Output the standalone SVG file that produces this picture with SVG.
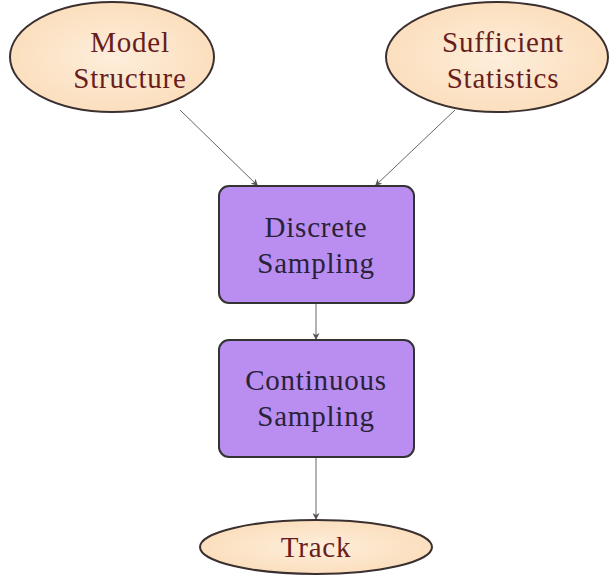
<svg xmlns="http://www.w3.org/2000/svg" width="612" height="576" viewBox="0 0 612 576">
<defs>
<radialGradient id="peach" cx="50%" cy="50%" r="60%">
<stop offset="0" stop-color="#fdeedb"/>
<stop offset="1" stop-color="#fbdcb8"/>
</radialGradient>
<marker id="ah" viewBox="0 0 10 10" refX="10" refY="5" markerWidth="7" markerHeight="7" orient="auto" markerUnits="userSpaceOnUse">
<path d="M0,0 L10,5 L0,10 L3,5 Z" fill="#555"/>
</marker>
<style>
.ell{fill:url(#peach);stroke:#3a3030;stroke-width:2}
.box{fill:#b98ef0;stroke:#333;stroke-width:2}
.et{font-family:"Liberation Serif",serif;font-size:29px;letter-spacing:0.8px;fill:#6a1d1d;text-anchor:middle}
.bt{font-family:"Liberation Serif",serif;font-size:29px;letter-spacing:0.8px;fill:#2a2238;text-anchor:middle}
.edge{stroke:#666;stroke-width:1;fill:none;marker-end:url(#ah)}
</style>
</defs>
<rect width="612" height="576" fill="#fff"/>
<g id="edges">
<line class="edge" x1="180" y1="110" x2="258" y2="186"/>
<line class="edge" x1="455" y1="110" x2="375" y2="186"/>
<line class="edge" x1="316" y1="303" x2="316" y2="340"/>
<line class="edge" x1="316" y1="457" x2="316" y2="520"/>
</g>
<g id="model-structure">
<ellipse class="ell" cx="112" cy="57" rx="102" ry="55"/>
<text class="et" x="130" y="52">Model</text>
<text class="et" x="130" y="88">Structure</text>
</g>
<g id="sufficient-statistics">
<ellipse class="ell" cx="497" cy="57" rx="111" ry="55"/>
<text class="et" x="503" y="52">Sufficient</text>
<text class="et" x="503" y="88">Statistics</text>
</g>
<g id="discrete-sampling">
<rect class="box" x="219" y="186" width="195" height="117" rx="10"/>
<text class="bt" x="316" y="237">Discrete</text>
<text class="bt" x="316" y="273">Sampling</text>
</g>
<g id="continuous-sampling">
<rect class="box" x="219" y="340" width="195" height="117" rx="10"/>
<text class="bt" x="316" y="390">Continuous</text>
<text class="bt" x="316" y="426">Sampling</text>
</g>
<g id="track">
<ellipse class="ell" cx="316" cy="547" rx="116" ry="27"/>
<text class="et" x="316" y="557">Track</text>
</g>
</svg>
